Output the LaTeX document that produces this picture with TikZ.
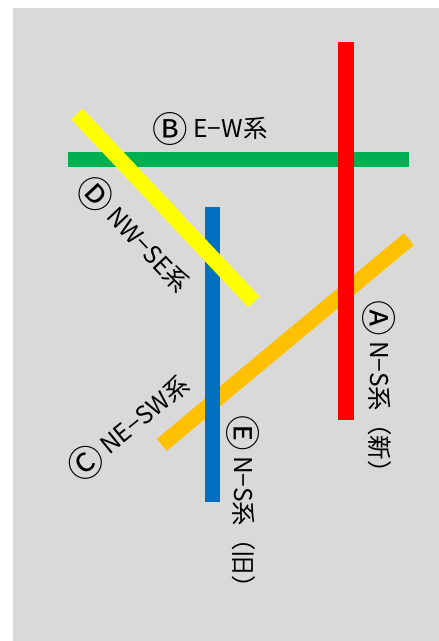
\documentclass[tikz,border=0pt]{standalone}
\usepackage{fontspec}
\setmainfont{Noto Sans CJK JP}
\usepackage{tikz}

\definecolor{bggray}{HTML}{D9D9D9}
\definecolor{lineA}{HTML}{FF0000}
\definecolor{lineB}{HTML}{00B050}
\definecolor{lineC}{HTML}{FFC000}
\definecolor{lineD}{HTML}{FFFF00}
\definecolor{lineE}{HTML}{0070C0}

\newcommand{\circl}[1]{\raisebox{-0.2em}{\scalebox{1.45}{#1}}}

\begin{document}
\begin{tikzpicture}[
  x=1pt, y=-1pt,
  route/.style={line width=15.5pt},
  tag/.style={font=\fontsize{24.5}{28}\selectfont, inner sep=0pt}
]
  \useasboundingbox (0,0) rectangle (439,641);
  \fill[bggray] (13,8) rectangle (439,641);

  % routes
  \draw[route, lineB] (68,159.7) -- (408.7,159.7);
  \draw[route, lineC] (161.7,444.8) -- (408.8,239.2);
  \draw[route, lineE] (212.3,207.3) -- (212.3,502.3);
  \draw[route, lineD] (77,114) -- (253.8,301.7);
  \draw[route, lineA] (345.8,42) -- (345.8,419.5);

  % labels
  \node[tag] (tagB) at (210,129) {\circl{Ⓑ} E−W系};
  \node[tag, rotate=-90] (tagA) at (379,392.5) {\circl{Ⓐ} N−S系（新）};
  \node[tag, rotate=-90] (tagE) at (243,507.5) {\circl{Ⓔ} N−S系（旧）};
  \node[tag, rotate=-46.7] (tagD) at (134,235) {\circl{Ⓓ} NW−SE系};
  \node[tag, rotate=39] (tagC) at (129,428) {\circl{Ⓒ} NE−SW系};
\end{tikzpicture}
\end{document}
